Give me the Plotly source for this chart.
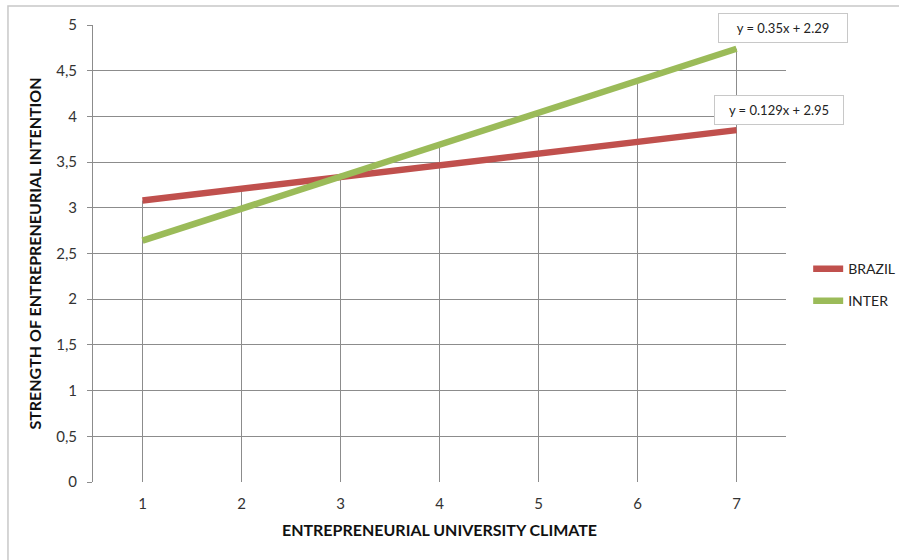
import plotly.graph_objects as go

# Category axis: entrepreneurial university climate scores
climate = [1, 2, 3, 4, 5, 6, 7]

# Strength of entrepreneurial intention per group
brazil = [3.08, 3.21, 3.34, 3.47, 3.60, 3.72, 3.85]
inter = [2.64, 2.99, 3.34, 3.69, 4.04, 4.39, 4.74]

series_names = ["BRAZIL", "INTER"]
trend_labels = ["y = 0.129x + 2.95", "y = 0.35x + 2.29"]

y_tick_vals = [0, 0.5, 1, 1.5, 2, 2.5, 3, 3.5, 4, 4.5, 5]
y_tick_text = ["0", "0,5", "1", "1,5", "2", "2,5", "3", "3,5", "4", "4,5", "5"]

RED = "#C0504D"
GREEN = "#9BBB59"
GRID = "#8c8c8c"
FONT = "Lato"

fig = go.Figure()

# Drop lines from the highest series down to the category axis
drop_x, drop_y = [], []
for x, a, b in zip(climate, brazil, inter):
    drop_x += [x, x, None]
    drop_y += [0, max(a, b), None]
fig.add_trace(go.Scatter(
    x=drop_x, y=drop_y, mode="lines",
    line=dict(color=GRID, width=1), showlegend=False, hoverinfo="skip",
))

for name, vals, color, grp in [(series_names[0], brazil, RED, "a"),
                               (series_names[1], inter, GREEN, "b")]:
    fig.add_trace(go.Scatter(
        x=climate, y=vals, mode="lines", name=name, legendgroup=grp,
        line=dict(color=color, width=6.5),
    ))

# Trend-line equation labels near the last point of each series
for vals, label, dx in [(brazil, trend_labels[0], -23), (inter, trend_labels[1], -19)]:
    fig.add_annotation(
        x=climate[-1], y=vals[-1], text=label, showarrow=False,
        xanchor="left", yanchor="middle", yshift=20.5, xshift=dx,
        width=116, align="center",
        font=dict(family=FONT, size=13, color="#222222"),
        bgcolor="white", bordercolor="#c8c8c8", borderwidth=1, borderpad=6,
    )

# Outer chart border
fig.add_shape(type="rect", xref="paper", yref="paper",
              x0=-0.1227, x1=1.2, y0=-0.3, y1=1.0415,
              line=dict(color="#c8c8c8", width=1.5), layer="below")

fig.update_layout(
    width=899, height=560,
    margin=dict(l=93, r=113, t=25, b=78, autoexpand=False),
    paper_bgcolor="white", plot_bgcolor="white",
    font=dict(family=FONT, size=14, color="#333333"),
    showlegend=True,
    legend=dict(
        x=1.032, y=0.431, xanchor="left", yanchor="middle",
        traceorder="grouped", tracegroupgap=11,
        font=dict(family=FONT, size=14, color="#222222"),
        bgcolor="rgba(0,0,0,0)",
    ),
    xaxis=dict(
        type="linear", range=[0.5, 7.5], tickvals=climate,
        showgrid=False, zeroline=False, showline=False,
        ticks="outside", ticklen=8, tickcolor="rgba(0,0,0,0)",
        tickfont=dict(size=15, color="#333333"),
        title=dict(text="<b>ENTREPRENEURIAL UNIVERSITY CLIMATE</b>",
                   font=dict(family=FONT, size=16, color="#111111"), standoff=13),
    ),
    yaxis=dict(
        range=[0, 5], tickvals=y_tick_vals, ticktext=y_tick_text,
        showgrid=True, gridcolor=GRID, gridwidth=1,
        zeroline=False, showline=True, linecolor=GRID, linewidth=1,
        ticks="outside", ticklen=5, tickcolor=GRID, ticklabelstandoff=7,
        tickfont=dict(size=15, color="#333333"),
        title=dict(text="<b>STRENGTH OF ENTREPRENEURIAL INTENTION</b>",
                   font=dict(family=FONT, size=16, color="#111111"), standoff=10),
    ),
)

fig.write_html("out.html")
